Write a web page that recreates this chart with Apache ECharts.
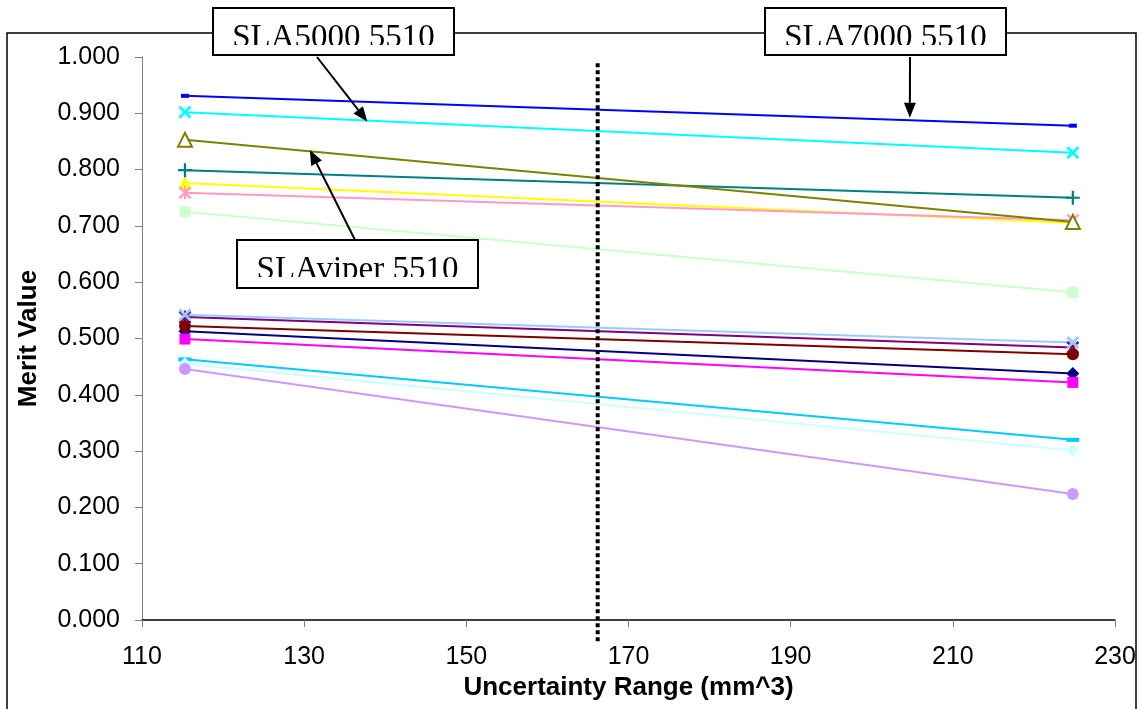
<!DOCTYPE html>
<html>
<head>
<meta charset="utf-8">
<script src="https://cdn.jsdelivr.net/npm/echarts@6/dist/echarts.min.js"></script>
<style>
  html, body { margin: 0; padding: 0; background: #fff; }
  #main { width: 1139px; height: 709px; }
</style>
</head>
<body>
<div id="main"></div>
<script>
const chartDom = document.getElementById("main");
const myChart = echarts.init(chartDom);

// x positions of the two measurements (mm^3)
const xValues = [115.3, 224.8];

// merit values, one small array per line
const navyDiamond = [0.513, 0.438];
const magentaSquare = [0.499, 0.422];
const yellowTriangle = [0.776, 0.705];
const cyanCross = [0.902, 0.830];
const purpleStar = [0.538, 0.484];
const maroonCircle = [0.522, 0.472];
const tealPlus = [0.799, 0.750];
const blueDash = [0.931, 0.878];
const skyDash = [0.463, 0.320];
const turquoiseDiamond = [0.455, 0.301];
const greenSquare = [0.725, 0.582];
const paleBlueCross = [0.542, 0.493];
const roseStar = [0.759, 0.710];
const lavenderCircle = [0.446, 0.224];
const oliveTriangle = [0.853, 0.707];

const cutoff = 166.2;

const labels = ["SLA5000 5510", "SLA7000 5510", "SLAviper 5510"];

// marker shapes
const X_PATH = "path://M0,1.5L1.5,0L5,3.5L8.5,0L10,1.5L6.5,5L10,8.5L8.5,10L5,6.5L1.5,10L0,8.5L3.5,5Z";
const PLUS_PATH = "path://M4.2,0H5.8V4.2H10V5.8H5.8V10H4.2V5.8H0V4.2H4.2Z";
const STAR_PATH = "path://M0,1.3L1.3,0L5,3.7L8.7,0L10,1.3L6.3,5L10,8.7L8.7,10L5,6.3L1.3,10L0,8.7L3.7,5ZM4.3,0H5.7V10H4.3Z";
const DASH_PATH = "path://M0,0H10V10H0Z";

const lines = [
    { data: navyDiamond, color: "#000080", symbol: "diamond", size: 13 },
    { data: magentaSquare, color: "#FF00FF", symbol: "rect", size: 11 },
    { data: yellowTriangle, color: "#FFFF00", symbol: "triangle", size: 14 },
    { data: cyanCross, color: "#00FFFF", symbol: X_PATH, size: 13 },
    { data: purpleStar, color: "#800080", symbol: STAR_PATH, size: 13 },
    { data: maroonCircle, color: "#800000", symbol: "circle", size: 12 },
    { data: tealPlus, color: "#008080", symbol: PLUS_PATH, size: 14 },
    { data: blueDash, color: "#0000FF", symbol: DASH_PATH, size: [8, 4] },
    { data: skyDash, color: "#00CCFF", symbol: DASH_PATH, size: [13, 4] },
    { data: turquoiseDiamond, color: "#CCFFFF", symbol: "diamond", size: 13 },
    { data: greenSquare, color: "#CCFFCC", symbol: "rect", size: 11 },
    { data: paleBlueCross, color: "#99CCFF", symbol: X_PATH, size: 13 },
    { data: roseStar, color: "#FF99CC", symbol: STAR_PATH, size: 13 },
    { data: lavenderCircle, color: "#CC99FF", symbol: "circle", size: 12 },
    { data: oliveTriangle, color: "#808000", symbol: "emptyTriangle", size: 14 },
];

const font = "'Liberation Sans', Arial, sans-serif";

myChart.setOption({
    animation: false,
    backgroundColor: "#fff",
    grid: { left: 142, right: 24, top: 57, bottom: 89 },
    xAxis: {
        type: "value",
        min: 110,
        max: 230,
        interval: 20,
        name: "Uncertainty Range (mm^3)",
        nameLocation: "middle",
        nameGap: 50,
        nameTextStyle: { fontFamily: font, fontSize: 26, fontWeight: "bold", color: "#000" },
        axisLine: { lineStyle: { color: "#000", width: 1.5 } },
        axisTick: { inside: false, length: 7, lineStyle: { color: "#808080" } },
        axisLabel: { margin: 25, fontFamily: font, fontSize: 25, color: "#000" },
        splitLine: { show: false },
    },
    yAxis: {
        type: "value",
        min: 0,
        max: 1,
        interval: 0.1,
        name: "Merit Value",
        nameLocation: "middle",
        nameGap: 100,
        nameTextStyle: { fontFamily: font, fontSize: 26, fontWeight: "bold", color: "#000" },
        axisLine: { show: true, lineStyle: { color: "#808080", width: 1 } },
        axisTick: { show: true, length: 7, lineStyle: { color: "#808080" } },
        axisLabel: {
            margin: 22,
            fontFamily: font,
            fontSize: 25,
            color: "#000",
            formatter: (v) => v.toFixed(3),
        },
        splitLine: { show: false },
    },
    series: lines.map((s) => ({
        type: "line",
        data: xValues.map((x, i) => [x, s.data[i]]),
        symbol: s.symbol,
        symbolSize: s.size,
        showAllSymbol: true,
        lineStyle: { color: s.color, width: 2 },
        itemStyle: s.symbol === "emptyTriangle"
            ? { color: s.color, borderColor: s.color, borderWidth: 2.5 }
            : { color: s.color, borderWidth: 0 },
        emphasis: { disabled: true },
    })),
});

// annotation helpers
const toPx = (x, y) => myChart.convertToPixel({ gridIndex: 0 }, [x, y]);

function arrow(from, to) {
    const dx = to[0] - from[0];
    const dy = to[1] - from[1];
    const len = Math.sqrt(dx * dx + dy * dy);
    const ux = dx / len, uy = dy / len;
    const headLen = 15, headW = 6;
    const bx = to[0] - ux * headLen, by = to[1] - uy * headLen;
    return [
        {
            type: "line",
            z: 20,
            shape: { x1: from[0], y1: from[1], x2: bx, y2: by },
            style: { stroke: "#000", lineWidth: 2 },
        },
        {
            type: "polygon",
            z: 20,
            shape: {
                points: [
                    to,
                    [bx - uy * headW, by + ux * headW],
                    [bx + uy * headW, by - ux * headW],
                ],
            },
            style: { fill: "#000" },
        },
    ];
}

function labelBox(x, y, w, h, text) {
    return [
        {
            type: "rect",
            z: 21,
            shape: { x: x, y: y, width: w, height: h },
            style: { fill: "#fff", stroke: "#000", lineWidth: 2 },
        },
        {
            type: "text",
            z: 22,
            style: {
                x: x + w / 2,
                y: y + 30,
                text: text,
                align: "center",
                verticalAlign: "middle",
                font: "33px 'Liberation Serif', 'Times New Roman', serif",
                fill: "#000",
            },
        },
        // the text is cut off at the bottom in the original
        {
            type: "rect",
            z: 23,
            shape: { x: x + 2, y: y + 37, width: w - 4, height: h - 39 },
            style: { fill: "#fff" },
        },
    ];
}

const cutTop = toPx(cutoff, 0.989);
const cutBottom = toPx(cutoff, -0.039);

const graphics = [
    {
        type: "rect",
        z: 0,
        shape: { x: 7, y: 33, width: 1129, height: 700 },
        style: { fill: "none", stroke: "#000", lineWidth: 1.5 },
    },
    {
        type: "line",
        z: 15,
        shape: { x1: cutTop[0], y1: cutTop[1], x2: cutBottom[0], y2: cutBottom[1] },
        style: { stroke: "#000", lineWidth: 4, lineDash: [4, 3] },
    },
    ...labelBox(213, 8, 241, 47, labels[0]),
    ...labelBox(765, 8, 241, 47, labels[1]),
    ...labelBox(237, 240, 241, 48, labels[2]),
    ...arrow([317, 57], toPx(137.8, 0.885)),
    ...arrow([910, 57], toPx(204.7, 0.892)),
    ...arrow([358, 246], toPx(130.7, 0.835)),
];

myChart.setOption({ graphic: graphics });
</script>
</body>
</html>
